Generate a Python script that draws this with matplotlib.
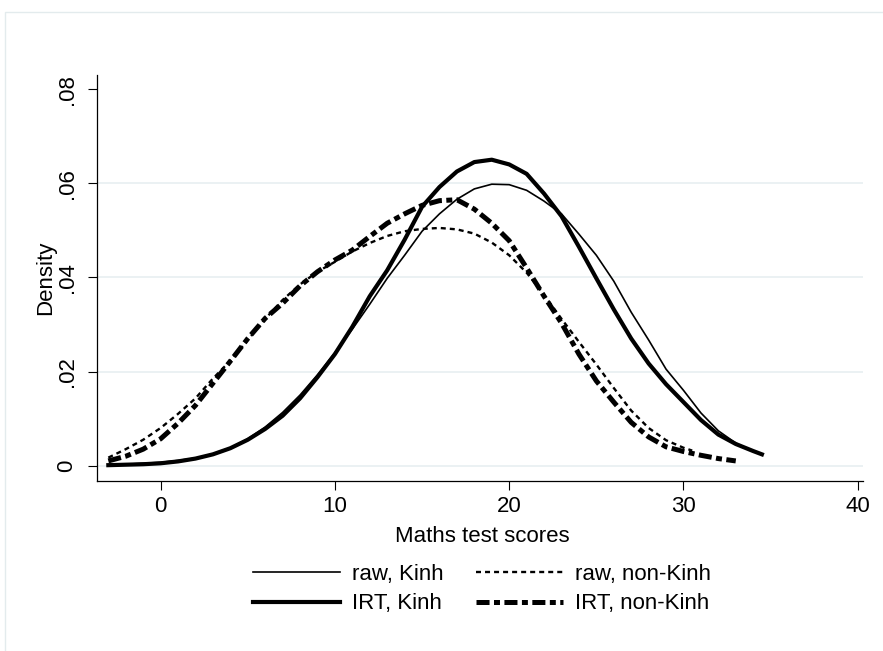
import matplotlib
matplotlib.use("Agg")
import matplotlib.pyplot as plt
from matplotlib.patches import Rectangle

plt.rcParams['font.family'] = ['Liberation Sans', 'DejaVu Sans']
plt.rcParams['lines.scale_dashes'] = False

# ---------------------------------------------------------
# DATA (kernel density estimates)
# ---------------------------------------------------------
x_kinh = [-3, -2, -1, 0, 1, 2, 3, 4, 5, 6, 7, 8, 9, 10, 11, 12, 13, 14, 15, 16,
          17, 18, 19, 20, 21, 22, 23, 24, 25, 26, 27, 28, 29, 30, 31, 32, 33, 34, 34.5]
raw_kinh = [0.0002, 0.0003, 0.0005, 0.0007, 0.0011, 0.0016, 0.0025, 0.0038, 0.0057, 0.0082,
            0.0113, 0.0150, 0.0193, 0.0240, 0.0290, 0.0343, 0.0398, 0.0447, 0.0498, 0.0535,
            0.0566, 0.0588, 0.0598, 0.0597, 0.0585, 0.0562, 0.0535, 0.0492, 0.0447, 0.0392,
            0.0326, 0.0267, 0.0205, 0.0160, 0.0112, 0.0074, 0.0048, 0.0030, 0.0024]
irt_kinh = [0.0001, 0.0002, 0.0003, 0.0005, 0.0009, 0.0015, 0.0024, 0.0037, 0.0055, 0.0078,
            0.0106, 0.0143, 0.0188, 0.0237, 0.0295, 0.0360, 0.0415, 0.0480, 0.0550, 0.0592,
            0.0625, 0.0645, 0.0650, 0.0640, 0.0620, 0.0578, 0.0530, 0.0465, 0.0398, 0.0332,
            0.0270, 0.0217, 0.0173, 0.0135, 0.0097, 0.0066, 0.0046, 0.0031, 0.0024]

x_raw_non = [-3, -2, -1, 0, 1, 2, 3, 4, 5, 6, 7, 8, 9, 10, 11, 12, 13, 14, 15, 16,
             17, 18, 19, 20, 21, 22, 23, 24, 25, 26, 27, 28, 29, 30, 30.5]
raw_non = [0.0017, 0.0035, 0.0055, 0.0080, 0.0110, 0.0143, 0.0185, 0.0223, 0.0267, 0.0312,
           0.0352, 0.0385, 0.0412, 0.0433, 0.0455, 0.0473, 0.0488, 0.0498, 0.0503, 0.0505,
           0.0502, 0.0493, 0.0474, 0.0447, 0.0410, 0.0363, 0.0312, 0.0263, 0.0215, 0.0165,
           0.0117, 0.0080, 0.0054, 0.0038, 0.0032]

x_irt_non = [-3, -2, -1, 0, 1, 2, 3, 4, 5, 6, 7, 8, 9, 10, 11, 12, 13, 14, 15, 16,
             17, 18, 19, 20, 21, 22, 23, 24, 25, 26, 27, 28, 29, 30, 31, 32, 33]
irt_non = [0.0010, 0.0020, 0.0035, 0.0057, 0.0090, 0.0128, 0.0175, 0.0222, 0.0270, 0.0313,
           0.0345, 0.0382, 0.0412, 0.0437, 0.0458, 0.0487, 0.0515, 0.0535, 0.0553, 0.0563,
           0.0565, 0.0545, 0.0515, 0.0478, 0.0420, 0.0360, 0.0303, 0.0237, 0.0180, 0.0135,
           0.0092, 0.0061, 0.0040, 0.0030, 0.0022, 0.0015, 0.0010]

x_ticks = [0, 10, 20, 30, 40]
y_ticks = [0, 0.02, 0.04, 0.06, 0.08]
y_tick_labels = ['0', '.02', '.04', '.06', '.08']
grid_levels = [0, 0.02, 0.04, 0.06]

# ---------------------------------------------------------
# FIGURE
# ---------------------------------------------------------
fig = plt.figure(figsize=(8.83, 6.51), dpi=100)
fig.patches.append(Rectangle((5 / 883, -0.1), 1.2, 1 - 12 / 651 + 0.1,
                             transform=fig.transFigure, fill=False,
                             edgecolor='#e3ebed', linewidth=1.0))

ax = fig.add_axes([97 / 883, 1 - 480.7 / 651, 766 / 883, 405.7 / 651])

for g in grid_levels:
    ax.axhline(g, color='#e6eef0', linewidth=1.1, zorder=0)

l1, = ax.plot(x_kinh, raw_kinh, color='black', linewidth=1.2, label='raw, Kinh')
l2, = ax.plot(x_raw_non, raw_non, color='black', linewidth=1.7,
              linestyle=(0, (3.6, 2.9)), label='raw, non-Kinh')
l3, = ax.plot(x_kinh, irt_kinh, color='black', linewidth=3.0, label='IRT, Kinh')
l4, = ax.plot(x_irt_non, irt_non, color='black', linewidth=3.6,
              linestyle=(0, (9.4, 3.2, 4.3, 3.2)), label='IRT, non-Kinh')

ax.set_xlim(-3.65, 40.3)
ax.set_ylim(-0.0032, 0.0830)
ax.set_xticks(x_ticks)
ax.set_yticks(y_ticks)
ax.set_yticklabels(y_tick_labels)

for side in ['top', 'right']:
    ax.spines[side].set_visible(False)
for side in ['left', 'bottom']:
    ax.spines[side].set_linewidth(0.9)

ax.tick_params(axis='both', direction='out', length=6.5, width=0.8, labelsize=16)
ax.tick_params(axis='x', pad=4.5)
ax.tick_params(axis='y', labelrotation=90, pad=7.5)
for lab in ax.get_yticklabels():
    lab.set_va('center')

ax.set_xlabel('Maths test scores', fontsize=16)
ax.set_ylabel('Density', fontsize=16)
ax.xaxis.set_label_coords(0.503, -0.112)
ax.yaxis.set_label_coords(-0.053, 0.5)

fig.legend([l1, l3, l2, l4], ['raw, Kinh', 'IRT, Kinh', 'raw, non-Kinh', 'IRT, non-Kinh'],
           ncol=2, loc='center', bbox_to_anchor=(482 / 883, 1 - 589 / 651),
           frameon=False, fontsize=16, handlelength=3.9, handletextpad=0.55,
           columnspacing=1.45, labelspacing=0.4)

fig.savefig('out.png', dpi=100)
